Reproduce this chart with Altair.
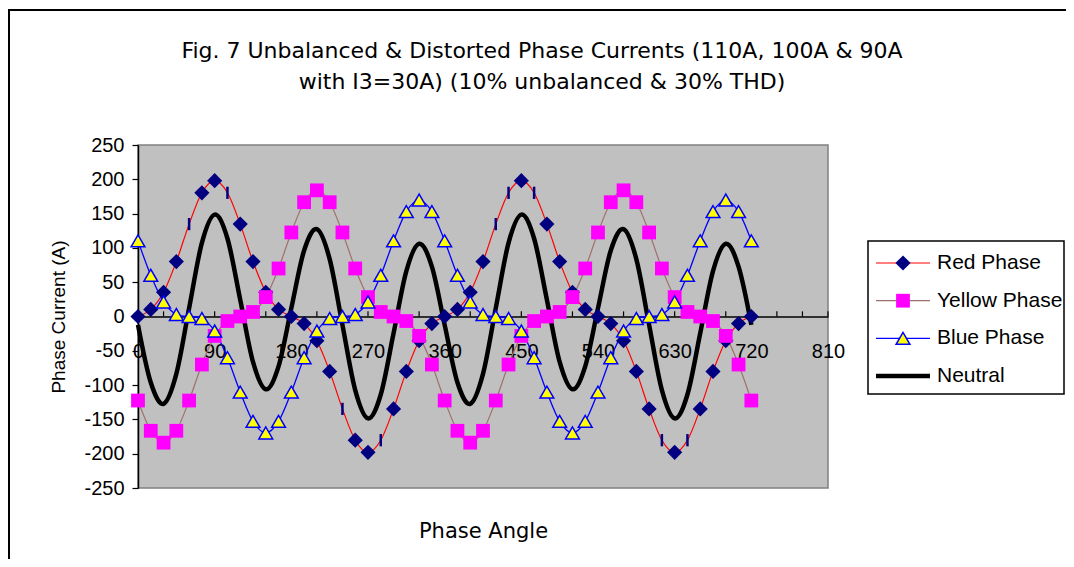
import altair as alt
import pandas as pd

# ---------------- data ----------------
angles = list(range(0, 721, 15))

red_phase = [0, 10.3, 35.4, 80.0, 134.7, 180.3, 198.0, 180.3, 134.7, 80.0, 35.4, 10.3,
             0, -10.3, -35.4, -80.0, -134.7, -180.3, -198.0, -180.3, -134.7, -80.0, -35.4, -10.3,
             0, 10.3, 35.4, 80.0, 134.7, 180.3, 198.0, 180.3, 134.7, 80.0, 35.4, 10.3,
             0, -10.3, -35.4, -80.0, -134.7, -180.3, -198.0, -180.3, -134.7, -80.0, -35.4, -10.3,
             0]

yellow_phase = [-122.5, -166.6, -183.9, -166.6, -122.5, -70.0, -28.3, -6.6, 0, 6.6, 28.3, 70.0,
                122.5, 166.6, 183.9, 166.6, 122.5, 70.0, 28.3, 6.6, 0, -6.6, -28.3, -70.0,
                -122.5, -166.6, -183.9, -166.6, -122.5, -70.0, -28.3, -6.6, 0, 6.6, 28.3, 70.0,
                122.5, 166.6, 183.9, 166.6, 122.5, 70.0, 28.3, 6.6, 0, -6.6, -28.3, -70.0,
                -122.5]

blue_phase = [110.2, 60.0, 21.2, 2.9, 0, -2.9, -21.2, -60.0, -110.2, -152.9, -169.7, -152.9,
              -110.2, -60.0, -21.2, -2.9, 0, 2.9, 21.2, 60.0, 110.2, 152.9, 169.7, 152.9,
              110.2, 60.0, 21.2, 2.9, 0, -2.9, -21.2, -60.0, -110.2, -152.9, -169.7, -152.9,
              -110.2, -60.0, -21.2, -2.9, 0, 2.9, 21.2, 60.0, 110.2, 152.9, 169.7, 152.9,
              110.2]

neutral = [-12.2, -96.3, -127.3, -83.7, 12.2, 107.3, 148.5, 113.7, 24.5, -66.3, -106.1, -72.7,
           12.2, 96.3, 127.3, 83.7, -12.2, -107.3, -148.5, -113.7, -24.5, 66.3, 106.1, 72.7,
           -12.2, -96.3, -127.3, -83.7, 12.2, 107.3, 148.5, 113.7, 24.5, -66.3, -106.1, -72.7,
           12.2, 96.3, 127.3, 83.7, -12.2, -107.3, -148.5, -113.7, -24.5, 66.3, 106.1, 72.7,
           -12.2]

series_names = ["Red Phase", "Yellow Phase", "Blue Phase", "Neutral"]
x_label_values = [0, 90, 180, 270, 360, 450, 540, 630, 720, 810]
x_minor_ticks = list(range(0, 811, 30))
y_label_values = [-250, -200, -150, -100, -50, 0, 50, 100, 150, 200, 250]
# red points that the reference draws as a thin vertical dash instead of a diamond
red_dash_angles = [60, 105, 240, 285, 420, 435, 465, 615, 645]

title_lines = ["Fig. 7 Unbalanced & Distorted Phase Currents (110A, 100A & 90A",
               "with I3=30A) (10% unbalanced & 30% THD)"]
x_title = "Phase Angle"
y_title = "Phase Current (A)"

# ---------------- styling ----------------
W, H = 690, 343
line_colors = ["#FF0000", "#A0706E", "#0000FF", "#000000"]
line_widths = [1.2, 1.2, 1.3, 4.5]
NAVY = "#000080"
MAGENTA = "#FF00FF"
YEL = "#FFFF00"
BLUE = "#0000FF"
DIAM_SIZE, SQ_SIZE, TRI_SIZE = 230, 190, 190

xscale = alt.Scale(domain=[0, 810], nice=False, zero=False)
yscale = alt.Scale(domain=[-250, 250], nice=False)

xaxis = alt.Axis(values=x_label_values, offset=-H / 2, ticks=False, tickSize=0,
                 labelPadding=41, labelBaseline="alphabetic", labelFont="Liberation Sans",
                 labelFontSize=20, labelColor="black", labelFlush=False, labelOverlap=False,
                 domainColor="black", domainWidth=1.5, grid=False,
                 title=x_title, titleFont="DejaVu Sans", titleFontSize=21,
                 titleFontWeight="normal", titleColor="black",
                 titleX=W / 2, titleY=221, titleAlign="center", titleBaseline="alphabetic")
yaxis = alt.Axis(values=y_label_values, tickSize=6, tickColor="black", tickWidth=1.2,
                 labelPadding=8, labelFont="Liberation Sans", labelFontSize=20,
                 labelColor="black", labelExpr="datum.value + ''", labelOverlap=False,
                 domainColor="black", domainWidth=1.5, grid=False,
                 title=y_title, titleFont="Liberation Sans", titleFontSize=19,
                 titleFontWeight="normal", titleColor="black", titleAngle=-90,
                 titleX=-74, titleY=H / 2, titleAlign="center", titleBaseline="alphabetic")

x_enc = alt.X("angle:Q", scale=xscale, axis=xaxis)
y_enc = alt.Y("value:Q", scale=yscale, axis=yaxis)

series_values = [red_phase, yellow_phase, blue_phase, neutral]
frames = [pd.DataFrame({"angle": angles, "value": v}) for v in series_values]

layers = []

# outer chart border
one = pd.DataFrame({"k": [0]})
layers.append(alt.Chart(one).mark_rect(filled=False, stroke="black", strokeWidth=2).encode(
    x=alt.value(-129), x2=alt.value(1500), y=alt.value(-135), y2=alt.value(1500)))

# minor x ticks (pointing up from the zero axis)
tick_df = pd.DataFrame({"angle": x_minor_ticks, "value": [0] * len(x_minor_ticks),
                        "value2": [7.5] * len(x_minor_ticks)})
layers.append(alt.Chart(tick_df).mark_rule(color="black", strokeWidth=1.2).encode(
    x=x_enc, y=y_enc, y2="value2:Q"))

# lines
for df, c, w in zip(frames, line_colors, line_widths):
    layers.append(alt.Chart(df).mark_line(interpolate="cardinal", color=c, strokeWidth=w,
                                          strokeJoin="round").encode(x=x_enc, y=y_enc))

# markers
red_df = frames[0]
red_diam = red_df[~red_df["angle"].isin(red_dash_angles)]
red_dash = red_df[red_df["angle"].isin(red_dash_angles)]
layers.append(alt.Chart(red_diam).mark_point(shape="diamond", filled=True, fill=NAVY,
                                             size=DIAM_SIZE, opacity=1).encode(x=x_enc, y=y_enc))
layers.append(alt.Chart(red_dash).mark_point(shape="M0,-1L0,1", filled=False, stroke=NAVY,
                                             strokeWidth=2.5, size=150, opacity=1).encode(x=x_enc, y=y_enc))
layers.append(alt.Chart(frames[1]).mark_point(shape="square", filled=True, fill=MAGENTA,
                                              size=SQ_SIZE, opacity=1).encode(x=x_enc, y=y_enc))
layers.append(alt.Chart(frames[2]).mark_point(shape="triangle-up", filled=True, fill=YEL,
                                              stroke=BLUE, strokeWidth=1.5, size=TRI_SIZE,
                                              opacity=1).encode(x=x_enc, y=y_enc))

# title
title_df = pd.DataFrame({"line": title_lines, "ty": [-87 + 31 * i for i in range(len(title_lines))]})
layers.append(alt.Chart(title_df).mark_text(font="DejaVu Sans", fontSize=22, align="center",
                                            baseline="alphabetic", color="black").encode(
    text="line:N", x=alt.value(404), y=alt.Y("ty:Q", scale=None)))

# legend
leg_df = pd.DataFrame({"name": series_names,
                       "ly": [118 + 37.7 * i for i in range(len(series_names))],
                       "lc": line_colors, "lw": line_widths})
layers.append(alt.Chart(one).mark_rect(fill="white", stroke="black", strokeWidth=1.5).encode(
    x=alt.value(730), x2=alt.value(926), y=alt.value(96), y2=alt.value(249)))
layers.append(alt.Chart(leg_df).mark_rule().encode(
    x=alt.value(738), x2=alt.value(792), y=alt.Y("ly:Q", scale=None),
    color=alt.Color("lc:N", scale=None), strokeWidth=alt.StrokeWidth("lw:Q", scale=None)))
layers.append(alt.Chart(leg_df.iloc[[0]]).mark_point(shape="diamond", filled=True, fill=NAVY,
                                                     size=DIAM_SIZE, opacity=1).encode(
    x=alt.value(765), y=alt.Y("ly:Q", scale=None)))
layers.append(alt.Chart(leg_df.iloc[[1]]).mark_point(shape="square", filled=True, fill=MAGENTA,
                                                     size=SQ_SIZE, opacity=1).encode(
    x=alt.value(765), y=alt.Y("ly:Q", scale=None)))
layers.append(alt.Chart(leg_df.iloc[[2]]).mark_point(shape="triangle-up", filled=True, fill=YEL,
                                                     stroke=BLUE, strokeWidth=1.5, size=TRI_SIZE,
                                                     opacity=1).encode(
    x=alt.value(765), y=alt.Y("ly:Q", scale=None)))
layers.append(alt.Chart(leg_df).mark_text(font="Liberation Sans", fontSize=21, align="left",
                                          baseline="middle", color="black").encode(
    text="name:N", x=alt.value(799), y=alt.Y("ly:Q", scale=None)))

chart = alt.layer(*layers).properties(
    width=W, height=H,
    autosize=alt.AutoSizeParams(type="none"),
    padding={"left": 130, "top": 137, "right": 238, "bottom": 71},
    background="white",
).configure_view(fill="#C0C0C0", stroke="#808080", strokeWidth=1.5)

chart.save("out.html", embed_options={"renderer": "svg", "actions": False})
